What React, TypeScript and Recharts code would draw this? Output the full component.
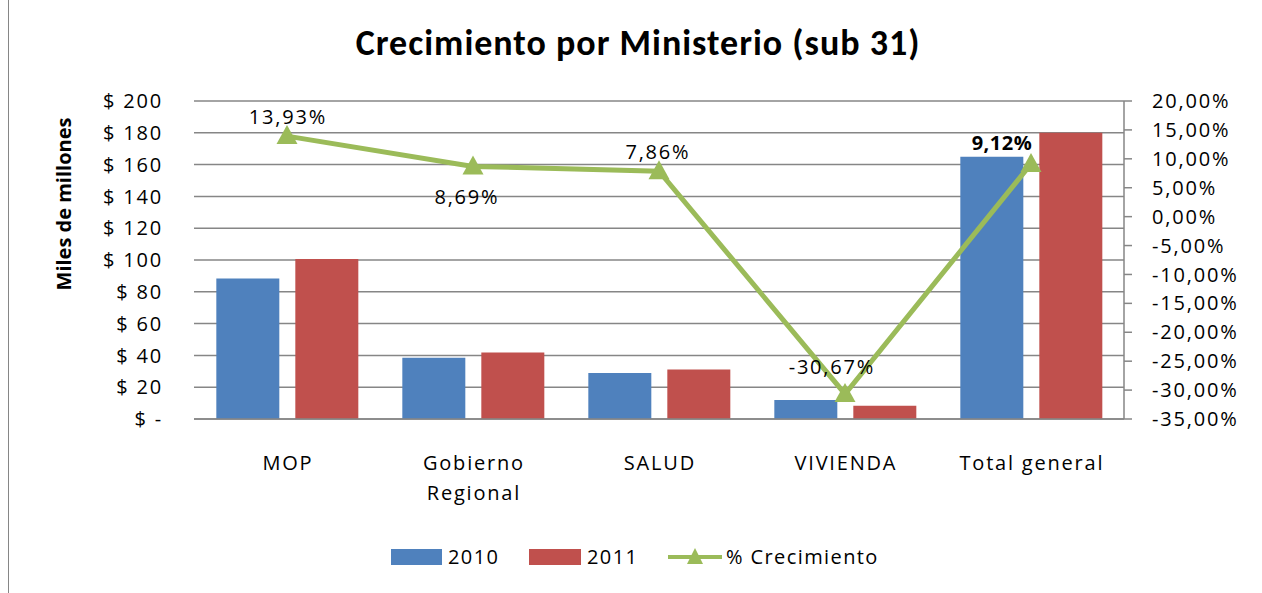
// Crecimiento por Ministerio (sub 31) – bars per year plus growth line
import {
  ComposedChart,
  Bar,
  Line,
  XAxis,
  YAxis,
  CartesianGrid,
  LabelList,
} from "recharts";

const categories = ["MOP", "Gobierno Regional", "SALUD", "VIVIENDA", "Total general"];
const values2010 = [88.3, 38.5, 28.9, 11.9, 165];
const values2011 = [100.6, 41.8, 31.2, 8.3, 180];
const growth = [13.93, 8.69, 7.86, -30.67, 9.12];
const leftTicks = [0, 20, 40, 60, 80, 100, 120, 140, 160, 180, 200];
const rightTicks = [-35, -30, -25, -20, -15, -10, -5, 0, 5, 10, 15, 20];

// label placement for the growth points (style only)
const labelOffsets = [
  { dx: 0, dy: -19 },
  { dx: -7, dy: 31 },
  { dx: -2, dy: -19 },
  { dx: -14, dy: -27 },
  { dx: -30, dy: -21 },
];

const FONT = "'Open Sans', sans-serif";
const TITLE_FONT = "Carlito, Calibri, Lato, sans-serif";
const SPACING = 1.8;
const BLUE = "#4F81BD";
const RED = "#C0504D";
const GREEN = "#9BBB59";
const GRID = "#868686";

const chartData = categories.map((name, i) => ({
  name,
  y2010: values2010[i],
  y2011: values2011[i],
  growth: growth[i],
}));

const fmtMoney = (v: number) => (v === 0 ? "$ -" : `$ ${v}`);
const fmtPct = (v: number) => `${v.toFixed(2).replace(".", ",")}%`;

const tickStyle = {
  fontSize: 20,
  fontFamily: FONT,
  fill: "#000",
  letterSpacing: SPACING,
};

function Triangle(props: any) {
  const { cx, cy } = props;
  if (cx == null || cy == null) return null;
  return (
    <path
      d={`M${cx},${cy - 11} L${cx + 10.5},${cy + 8} L${cx - 10.5},${cy + 8} Z`}
      fill={GREEN}
    />
  );
}

function CategoryTick(props: any) {
  const { x, y, payload } = props;
  const label: string = payload.value;
  const lines = label.length > 14 ? label.split(" ") : [label];
  return (
    <g transform={`translate(${x},${y})`}>
      {lines.map((l, i) => (
        <text
          key={i}
          x={SPACING / 2}
          y={43 + i * 30}
          textAnchor="middle"
          {...tickStyle}
        >
          {l}
        </text>
      ))}
    </g>
  );
}

function GrowthLabel(props: any) {
  const { x, y, value, index } = props;
  const off = labelOffsets[index] || { dx: 0, dy: -20 };
  const bold = index === categories.length - 1;
  return (
    <text
      x={x + off.dx + SPACING / 2}
      y={y + off.dy}
      dy={7}
      textAnchor="middle"
      {...tickStyle}
      letterSpacing={bold ? 0.5 : SPACING}
      fontWeight={bold ? "bold" : "normal"}
    >
      {fmtPct(value)}
    </text>
  );
}

function ChartLegend() {
  const text = {
    fontSize: 20,
    fontFamily: FONT,
    color: "#000",
    letterSpacing: 1.4,
    lineHeight: "24px",
  };
  return (
    <div
      style={{
        position: "absolute",
        left: 382,
        top: 547,
        display: "flex",
        alignItems: "center",
        height: 24,
      }}
    >
      <div style={{ width: 51, height: 16, background: BLUE }} />
      <span style={{ ...text, marginLeft: 6, width: 81 }}>2010</span>
      <div style={{ width: 52, height: 16, background: RED }} />
      <span style={{ ...text, marginLeft: 6, width: 81 }}>2011</span>
      <svg width={54} height={22}>
        <line x1={0} y1={11} x2={54} y2={11} stroke={GREEN} strokeWidth={4} />
        <path d="M27,2 L35,18 L19,18 Z" fill={GREEN} />
      </svg>
      <span style={{ ...text, marginLeft: 4 }}>% Crecimiento</span>
    </div>
  );
}

export default function App() {
  return (
    <div
      style={{
        position: "absolute",
        left: 8,
        top: -2,
        width: 1262,
        height: 600,
        borderLeft: `1.5px solid ${GRID}`,
        background: "#fff",
      }}
    >
      <div
        style={{
          position: "absolute",
          left: 0,
          top: 23,
          width: 1258,
          textAlign: "center",
          fontFamily: TITLE_FONT,
          fontWeight: "bold",
          fontSize: 36,
          letterSpacing: 1,
          color: "#000",
        }}
      >
        Crecimiento por Ministerio (sub 31)
      </div>
      <div style={{ position: "absolute", left: 0, top: 2 }}>
        <ComposedChart
          width={1254}
          height={593}
          data={chartData}
          margin={{ top: 101, right: 19, left: 75, bottom: 74 }}
          barCategoryGap="12%"
          barGap={16}
        >
          <CartesianGrid
            vertical={false}
            stroke={GRID}
            strokeWidth={1.5}
            yAxisId="left"
          />
          <XAxis
            dataKey="name"
            height={100}
            axisLine={{ stroke: GRID, strokeWidth: 1.5 }}
            tickLine={false}
            tick={<CategoryTick />}
            interval={0}
          />
          <YAxis
            yAxisId="left"
            width={110}
            domain={[0, 200]}
            ticks={leftTicks}
            interval={0}
            tickFormatter={fmtMoney}
            axisLine={false}
            tickLine={false}
            tickSize={0}
            tickMargin={31}
            tick={tickStyle}
            label={{
              content: (p: any) => (
                <text
                  x={p.viewBox.x - 21}
                  y={p.viewBox.y + 103}
                  transform={`rotate(-90, ${p.viewBox.x - 21}, ${p.viewBox.y + 103})`}
                  textAnchor="middle"
                  dominantBaseline="central"
                  fontSize={20}
                  fontWeight="bold"
                  fontFamily={FONT}
                  fill="#000"
                >
                  Miles de millones
                </text>
              ),
            }}
          />
          <YAxis
            yAxisId="right"
            orientation="right"
            width={120}
            domain={[-35, 20]}
            ticks={rightTicks}
            interval={0}
            tickFormatter={fmtPct}
            axisLine={{ stroke: GRID, strokeWidth: 1.5 }}
            tickLine={{ stroke: GRID, strokeWidth: 1.5 }}
            tickSize={8}
            tickMargin={20}
            tick={{ ...tickStyle, textAnchor: "start" }}
          />
          <Bar yAxisId="left" dataKey="y2010" name="2010" fill={BLUE} isAnimationActive={false} />
          <Bar yAxisId="left" dataKey="y2011" name="2011" fill={RED} isAnimationActive={false} />
          <Line
            yAxisId="right"
            dataKey="growth"
            name="% Crecimiento"
            type="linear"
            stroke={GREEN}
            strokeWidth={5}
            dot={<Triangle />}
            activeDot={false}
            isAnimationActive={false}
          >
            <LabelList dataKey="growth" content={<GrowthLabel />} />
          </Line>
        </ComposedChart>
      </div>
      <ChartLegend />
    </div>
  );
}
